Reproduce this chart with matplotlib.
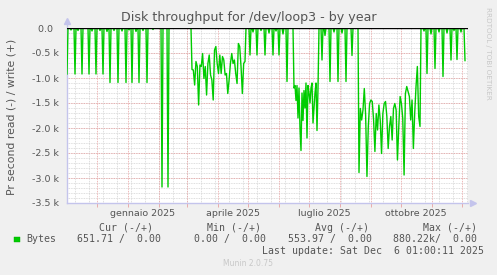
import numpy as np
import matplotlib
matplotlib.use("Agg")
import matplotlib.pyplot as plt
import matplotlib.dates as mdates
from matplotlib.patches import Rectangle
from datetime import datetime, timedelta

W, H = 497, 275
start = datetime(2024, 11, 1, 1, 0)
n_days = 401
last_day = 398

# single-day spikes (day offset from start, value in k, read is negative)
spike_days = [0, 8, 15, 22, 29, 36, 43, 51, 59, 65, 72, 80, 95, 101,
              183, 190, 198, 206, 212, 220, 255, 263, 271, 279, 285,
              360, 368, 376, 384, 390, 398]
spike_vals = [-0.92, -0.92, -0.92, -0.92, -0.92, -0.92, -1.09, -1.09, -1.09, -1.09, -1.09, -1.09,
              -3.18, -3.18,
              -0.54, -0.54, -0.54, -0.54, -0.54, -1.07, -0.64, -1.07, -1.07, -1.07, -0.55,
              -0.91, -0.81, -0.97, -0.64, -0.63, -0.652]

# small dips near zero
dip_days = [4, 11, 25, 33, 40, 47, 55, 62, 69, 76, 86, 186, 194, 202, 209, 216,
            258, 267, 275, 357, 364, 372, 380, 387, 394]
dip_vals = [-0.04, -0.05, -0.06, -0.05, -0.07, -0.05, -0.06, -0.04, -0.07, -0.05, -0.03,
            -0.08, -0.05, -0.10, -0.06, -0.12, -0.15, -0.08, -0.10, -0.06, -0.12, -0.08,
            -0.10, -0.05, -0.08]

# busy periods: first day, last day, values
spring_span = (125, 178)
spring_vals = [-0.83, -0.84, -1.14, -0.67, -0.77, -1.54, -0.74, -0.77, -0.51, -1.01, -0.77,
               -1.34, -0.71, -0.54, -0.94, -1.04, -1.44, -0.44, -0.37, -0.71, -0.91, -0.54,
               -0.91, -0.57, -0.64, -0.94, -0.91, -1.31, -1.04, -0.71, -0.51, -0.71, -0.64,
               -0.91, -1.11, -0.31, -0.37, -0.77, -1.31, -0.71, -0.67]
summer_span = (227, 251)
summer_vals = [-1.2, -1.15, -1.45, -1.15, -1.8, -1.2, -2.0, -2.45, -1.3, -1.85, -1.25, -1.6,
               -1.1, -2.2, -1.15, -1.3, -1.5, -1.2, -1.1, -1.9, -1.6, -1.3, -1.1, -2.05, -1.2]
autumn_span = (292, 353)
autumn_vals = [-2.89, -1.61, -1.84, -1.64, -1.21, -1.74, -2.97, -1.97, -1.51, -1.44, -1.47,
               -1.84, -2.47, -1.71, -2.04, -1.54, -1.84, -2.51, -1.71, -1.51, -1.47, -1.77,
               -2.41, -1.97, -1.77, -2.24, -1.61, -1.51, -1.64, -2.64, -1.97, -1.37, -1.51,
               -1.81, -2.94, -1.31, -1.17, -1.27, -1.37, -1.84, -1.44, -2.41, -1.71, -1.17,
               -0.77, -1.77, -1.97]

month_labels = ["gennaio 2025", "aprile 2025", "luglio 2025", "ottobre 2025"]
month_label_dates = [datetime(2025, 1, 16), datetime(2025, 4, 16),
                     datetime(2025, 7, 16), datetime(2025, 10, 16)]
ytick_vals = [0.0, -0.5, -1.0, -1.5, -2.0, -2.5, -3.0, -3.5]
ytick_text = ["0.0  ", "-0.5 k", "-1.0 k", "-1.5 k", "-2.0 k", "-2.5 k", "-3.0 k", "-3.5 k"]

# build the series
spans = [(spring_span, spring_vals), (summer_span, summer_vals), (autumn_span, autumn_vals)]
pts = {}
for d in range(0, last_day + 1):
    if any(s[0] <= d <= s[1] for s, _ in spans):
        continue
    pts[float(d)] = 0.0
for d, v in zip(dip_days, dip_vals):
    pts[float(d)] = v
for d, v in zip(spike_days, spike_vals):
    pts[float(d)] = v
for (a, b), vals in spans:
    for d, v in zip(np.linspace(a, b, len(vals)), vals):
        pts[float(d)] = v
days = np.array(sorted(pts))
vals = np.array([pts[d] for d in days])
t0 = mdates.date2num(start)
x = t0 + days

fig = plt.figure(figsize=(W / 100, H / 100), dpi=100)
fig.patch.set_facecolor("#f0f0f0")
ax = fig.add_axes([67 / W, 1 - 203 / H, 401 / W, 175 / H])
ax.set_facecolor("white")
ax.set_xlim(t0, t0 + n_days)
ax.set_ylim(-3.5, 0)

# grid
axis_col = "#c4c4ec"
for yv in np.arange(-3.4, 0, 0.1):
    ax.axhline(yv, color="#d4d4d4", lw=0.6, ls=(0, (1, 1)), zorder=1)
for yv in ytick_vals[1:-1]:
    ax.axhline(yv, color="#e8a0a0", lw=0.6, ls=(0, (1, 1)), zorder=1)
g = mdates.date2num(datetime(2024, 11, 9, 12))
while g < t0 + n_days:
    ax.axvline(g, color="#d4d4d4", lw=0.6, ls=(0, (1, 1)), zorder=1)
    g += 14
month_starts = [mdates.date2num(datetime(2024 + (10 + m) // 12, (10 + m) % 12 + 1, 1))
                for m in range(1, 14)]
for m in month_starts:
    ax.axvline(m, color="#e8a0a0", lw=0.6, ls=(0, (1, 1)), zorder=1)

ax.plot(x, vals, color="#00cc00", lw=1.0, zorder=3)
ax.axhline(0, color="black", lw=1.0, zorder=4)

for s in ax.spines.values():
    s.set_visible(False)
ax.plot([0, 0], [0, 1.035], color=axis_col, lw=1, transform=ax.transAxes, clip_on=False)
ax.plot([0, 1.0], [0, 0], color=axis_col, lw=1, transform=ax.transAxes, clip_on=False)
ax.plot(0, 1.04, marker="^", ms=4, color=axis_col, mec=axis_col, transform=ax.transAxes, clip_on=False)
ax.plot(1.012, 0, marker=">", ms=4, color=axis_col, mec=axis_col, transform=ax.transAxes, clip_on=False)

ax.set_xticks(month_starts)
ax.set_xticklabels([])
ax.tick_params(axis="x", which="major", length=3, width=0.6, color="#e8a0a0", direction="out")
ax.set_xticks([mdates.date2num(d) for d in month_label_dates], month_labels, minor=True)
ax.tick_params(axis="x", which="minor", length=0, pad=4, labelsize=6.8, labelcolor="#555555")
ax.set_yticks(ytick_vals, ytick_text)
ax.tick_params(axis="y", length=0, pad=6, labelsize=6.8, labelcolor="#555555")

def px(xp, yp):
    return xp / W, 1 - yp / H

fig.text(*px(249, 18), "Disk throughput for /dev/loop3 - by year", ha="center", va="center",
         fontsize=9.1, color="#555555")
fig.text(*px(12, 117), "Pr second read (-) / write (+)", rotation=90, ha="center", va="center",
         fontsize=7.8, color="#555555")
fig.text(*px(488, 53), "RRDTOOL / TOBI OETIKER", rotation=270, ha="center", va="center",
         fontsize=5.2, color="#c8c8c8")

mono = dict(family="DejaVu Sans Mono", fontsize=7.1, color="#555555", va="center", ha="left")
for xs, txt in [(98.7, "Cur (-/+)"), (206.7, "Min (-/+)"), (315, "Avg (-/+)"), (422.7, "Max (-/+)")]:
    fig.text(*px(xs, 227.7), txt, **mono)
for xs, txt in [(26.7, "Bytes"), (77.3, "651.71 /  0.00"), (194.3, "0.00 /  0.00"),
                (287.7, "553.97 /  0.00"), (392.7, "880.22k/  0.00")]:
    fig.text(*px(xs, 239.3), txt, **mono)
fig.text(*px(261.7, 251), "Last update: Sat Dec  6 01:00:11 2025", **mono)
fig.text(*px(223, 264), "Munin 2.0.75", fontsize=5.5, color="#c8c8c8", va="center", ha="left")
fig.patches.append(Rectangle((14 / W, 1 - 242 / H), 5.5 / W, 5.5 / H, transform=fig.transFigure,
                             facecolor="#00cc00", edgecolor="#00aa00", lw=0.3))

fig.savefig("out.png", dpi=100, facecolor=fig.get_facecolor())
